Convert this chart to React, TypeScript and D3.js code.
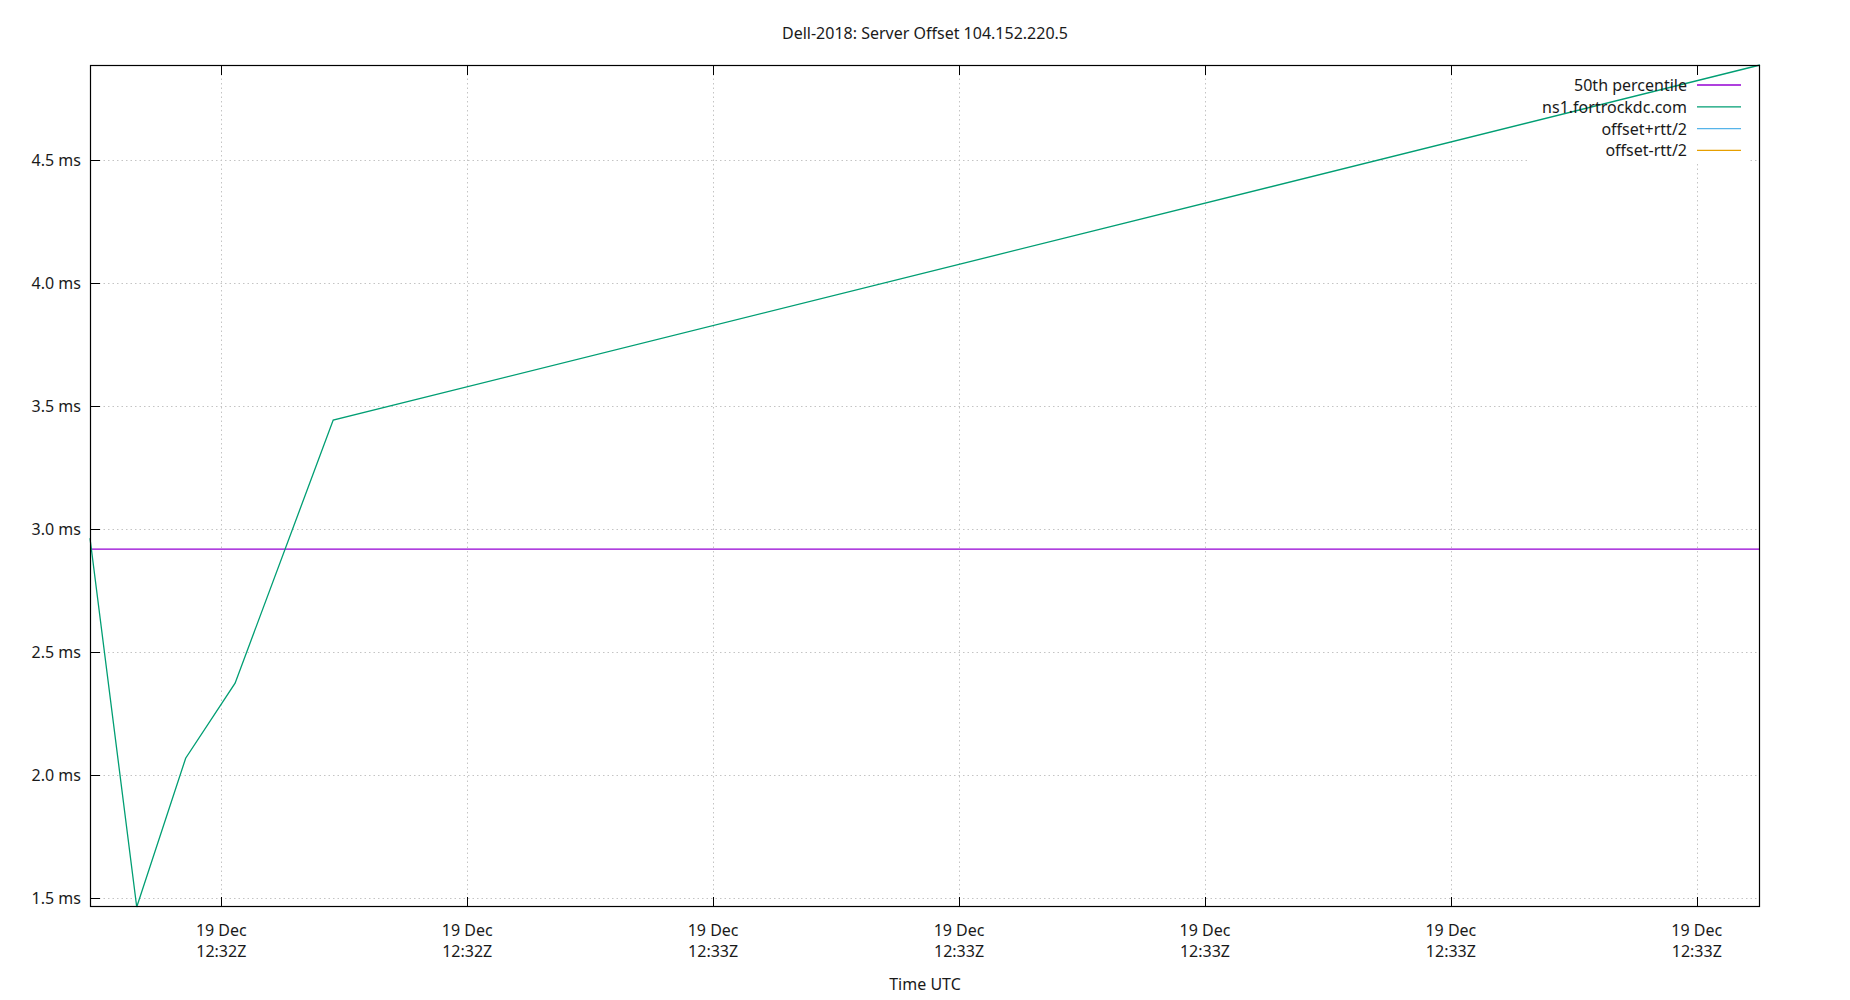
import React from "react";
import * as d3 from "d3";

const title = "Dell-2018: Server Offset 104.152.220.5";
const xLabel = "Time UTC";

const sampleTimes = [
  "2018-12-19T12:32:34.66Z",
  "2018-12-19T12:32:36.56Z",
  "2018-12-19T12:32:38.55Z",
  "2018-12-19T12:32:40.56Z",
  "2018-12-19T12:32:44.55Z",
  "2018-12-19T12:33:42.57Z",
];
const offsetMs = [2.963, 1.4646, 2.069, 2.374, 3.443, 4.886];
const percentile50 = 2.919;

const yTicks = [1.5, 2.0, 2.5, 3.0, 3.5, 4.0, 4.5];

const legendNames = ["50th percentile", "ns1.fortrockdc.com", "offset+rtt/2", "offset-rtt/2"];
const legendColors = ["#9400d3", "#009e73", "#56b4e9", "#e69f00"];

const W = 1850;
const H = 1000;
const M = { left: 90, right: 1760, top: 65, bottom: 907 };
const FONT = "'Noto Sans', 'Open Sans', sans-serif";
const FS = 16;

export default function App() {
  const times = sampleTimes.map((s) => new Date(s));
  const x = d3
    .scaleUtc()
    .domain(d3.extent(times) as [Date, Date])
    .range([M.left, M.right]);
  const y = d3
    .scaleLinear()
    .domain(d3.extent(offsetMs) as [number, number])
    .range([M.bottom, M.top]);

  const xTicks = x.ticks(d3.utcSecond.every(10)!);
  const fmtDay = d3.utcFormat("%d %b");
  const fmtTime = d3.utcFormat("%H:%MZ");

  const pts = times.map((t, i) => [t, offsetMs[i]] as [Date, number]);
  const line = d3
    .line<[Date, number]>()
    .x((d) => x(d[0]))
    .y((d) => y(d[1]));

  const tickLen = 10;
  const legendTextX = 1687;
  const legendLineX1 = 1697;
  const legendLineX2 = 1741;
  const legendY0 = 85;
  const legendDY = 21.8;

  return (
    <svg
      width={W}
      height={H}
      style={{ position: "absolute", left: 0, top: 0, background: "#fff" }}
      fontFamily={FONT}
      fontSize={FS}
    >
      <rect x={0} y={0} width={W} height={H} fill="#fff" />
      <text x={(M.left + M.right) / 2} y={33} textAnchor="middle" dominantBaseline="central" fill="#1a1a1a">
        {title}
      </text>

      {/* grid */}
      <g stroke="#c4c4c4" strokeWidth={1} strokeDasharray="1.5,3">
        {yTicks.map((v) => (
          <line key={"gy" + v} x1={M.left} x2={M.right} y1={Math.round(y(v)) + 0.5} y2={Math.round(y(v)) + 0.5} />
        ))}
        {xTicks.map((t, i) => (
          <line key={"gx" + i} x1={Math.round(x(t)) + 0.5} x2={Math.round(x(t)) + 0.5} y1={M.top} y2={M.bottom} />
        ))}
      </g>

      {/* opaque key background */}
      <rect x={1527} y={M.top} width={223} height={96} fill="#fff" />

      {/* data */}
      <line
        x1={M.left}
        x2={M.right}
        y1={y(percentile50)}
        y2={y(percentile50)}
        stroke={legendColors[0]}
        strokeWidth={1.3}
      />
      <path d={line(pts) || ""} fill="none" stroke={legendColors[1]} strokeWidth={1.3} />

      {/* legend */}
      {legendNames.map((n, i) => (
        <g key={n}>
          <text
            x={legendTextX}
            y={legendY0 + i * legendDY}
            textAnchor="end"
            dominantBaseline="central"
            fill="#1a1a1a"
          >
            {n}
          </text>
          <line
            x1={legendLineX1}
            x2={legendLineX2}
            y1={legendY0 + i * legendDY}
            y2={legendY0 + i * legendDY}
            stroke={legendColors[i]}
            strokeWidth={1.3}
          />
        </g>
      ))}

      {/* ticks */}
      <g stroke="#000" strokeWidth={1}>
        {yTicks.map((v) => (
          <line key={"ty" + v} x1={M.left} x2={M.left + tickLen} y1={Math.round(y(v)) + 0.5} y2={Math.round(y(v)) + 0.5} />
        ))}
        {xTicks.map((t, i) => (
          <g key={"tx" + i}>
            <line x1={Math.round(x(t)) + 0.5} x2={Math.round(x(t)) + 0.5} y1={M.bottom} y2={M.bottom - tickLen} />
            <line x1={Math.round(x(t)) + 0.5} x2={Math.round(x(t)) + 0.5} y1={M.top} y2={M.top + tickLen} />
          </g>
        ))}
      </g>

      {/* tick labels */}
      {yTicks.map((v) => (
        <text key={"ly" + v} x={M.left - 9} y={y(v)} textAnchor="end" dominantBaseline="central" fill="#1a1a1a">
          {d3.format(".1f")(v) + " ms"}
        </text>
      ))}
      {xTicks.map((t, i) => (
        <text key={"lx" + i} x={x(t)} textAnchor="middle" fill="#1a1a1a">
          <tspan x={x(t)} y={930} dominantBaseline="central">
            {fmtDay(t)}
          </tspan>
          <tspan x={x(t)} y={951} dominantBaseline="central">
            {fmtTime(t)}
          </tspan>
        </text>
      ))}
      <text x={(M.left + M.right) / 2} y={984} textAnchor="middle" dominantBaseline="central" fill="#1a1a1a">
        {xLabel}
      </text>

      {/* border */}
      <rect
        x={M.left + 0.5}
        y={M.top + 0.5}
        width={M.right - M.left - 1}
        height={M.bottom - M.top - 1}
        fill="none"
        stroke="#000"
        strokeWidth={1.2}
      />
    </svg>
  );
}
